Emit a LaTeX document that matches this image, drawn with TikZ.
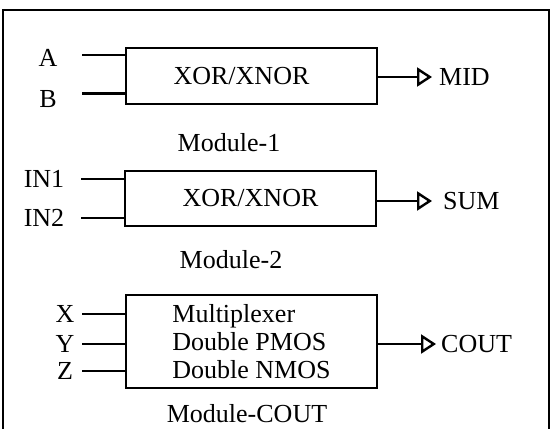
\documentclass[tikz,border=0pt]{standalone}
\usepackage{fontspec}
\setmainfont{Liberation Serif}
\usetikzlibrary{arrows.meta,positioning}

\tikzset{
  modbox/.style={draw, line width=2.2pt, minimum width=251pt, inner sep=0pt,
    font=\fontsize{26}{28}\selectfont},
  sig/.style={font=\fontsize{26}{28}\selectfont, inner sep=0pt},
  pin/.style={line width=2.4pt},
  outpin/.style={line width=2.4pt, -{Triangle[open, length=15pt, width=19pt, line width=2.4pt]}},
}

\begin{document}
\begin{tikzpicture}[x=1pt, y=-1pt]
        \useasboundingbox (0,0) rectangle (553,428);

        % Outer frame (bottom edge runs off the page)
        \draw[line width=2.6pt] (3,460) -- (3,10) -- (549,10) -- (549,460);

        % First module - XOR/XNOR for MID
        \begin{scope}[local bounding box=mod1]
            \node[modbox, minimum height=56pt] (m1) at (251.5,76) {XOR/XNOR\hspace*{20pt}};
            \node[sig] (a) at (48,58) {A};
            \node[sig] (b) at (48,99) {B};
            \coordinate (ina) at (82,55);
            \coordinate (inb) at (82,93.5);
            \draw[pin] (ina) -- (ina -| m1.west);
            \draw[pin] (inb) -- (inb -| m1.west);

            % Output
            \coordinate (mido) at (432,77);
            \draw[outpin] (m1.east |- mido) -- (mido);
            \node[sig, anchor=west] (mid) at (439,77) {MID};

            \node[sig] (lab1) at (229,143) {Module-1};
        \end{scope}

        % Second module - XOR/XNOR for SUM
        \begin{scope}[local bounding box=mod2]
            \node[modbox, minimum height=55pt] (m2) at (250.5,198.5) {XOR/XNOR};
            \node[sig] (in1) at (44,179) {IN1};
            \node[sig] (in2) at (44,218) {IN2};
            \coordinate (pin1) at (81,179);
            \coordinate (pin2) at (81,218);
            \draw[pin] (pin1) -- (pin1 -| m2.west);
            \draw[pin] (pin2) -- (pin2 -| m2.west);

            % Output
            \coordinate (sumo) at (432,201);
            \draw[outpin] (m2.east |- sumo) -- (sumo);
            \node[sig, anchor=west] (sum) at (443,201) {SUM};

            \node[sig] (lab2) at (231,260) {Module-2};
        \end{scope}

        % Third module - carry out
        \begin{scope}[local bounding box=mod3]
            \node[modbox, minimum height=93pt, align=left] (m3) at (251.5,341.5)
                {Multiplexer\\Double PMOS\\Double NMOS};
            \foreach \s/\y in {X/314, Y/344, Z/371} {
                \node[sig] (l\s) at (65,\y) {\s};
                \coordinate (p\s) at (82,\y);
                \draw[pin] (p\s) -- (p\s -| m3.west);
            }

            % Output
            \coordinate (couto) at (436,344);
            \draw[outpin] (m3.east |- couto) -- (couto);
            \node[sig, anchor=west] (cout) at (441,344) {COUT};

            \node[sig] (lab3) at (247,414) {Module-COUT};
        \end{scope}

    \end{tikzpicture}
\end{document}
